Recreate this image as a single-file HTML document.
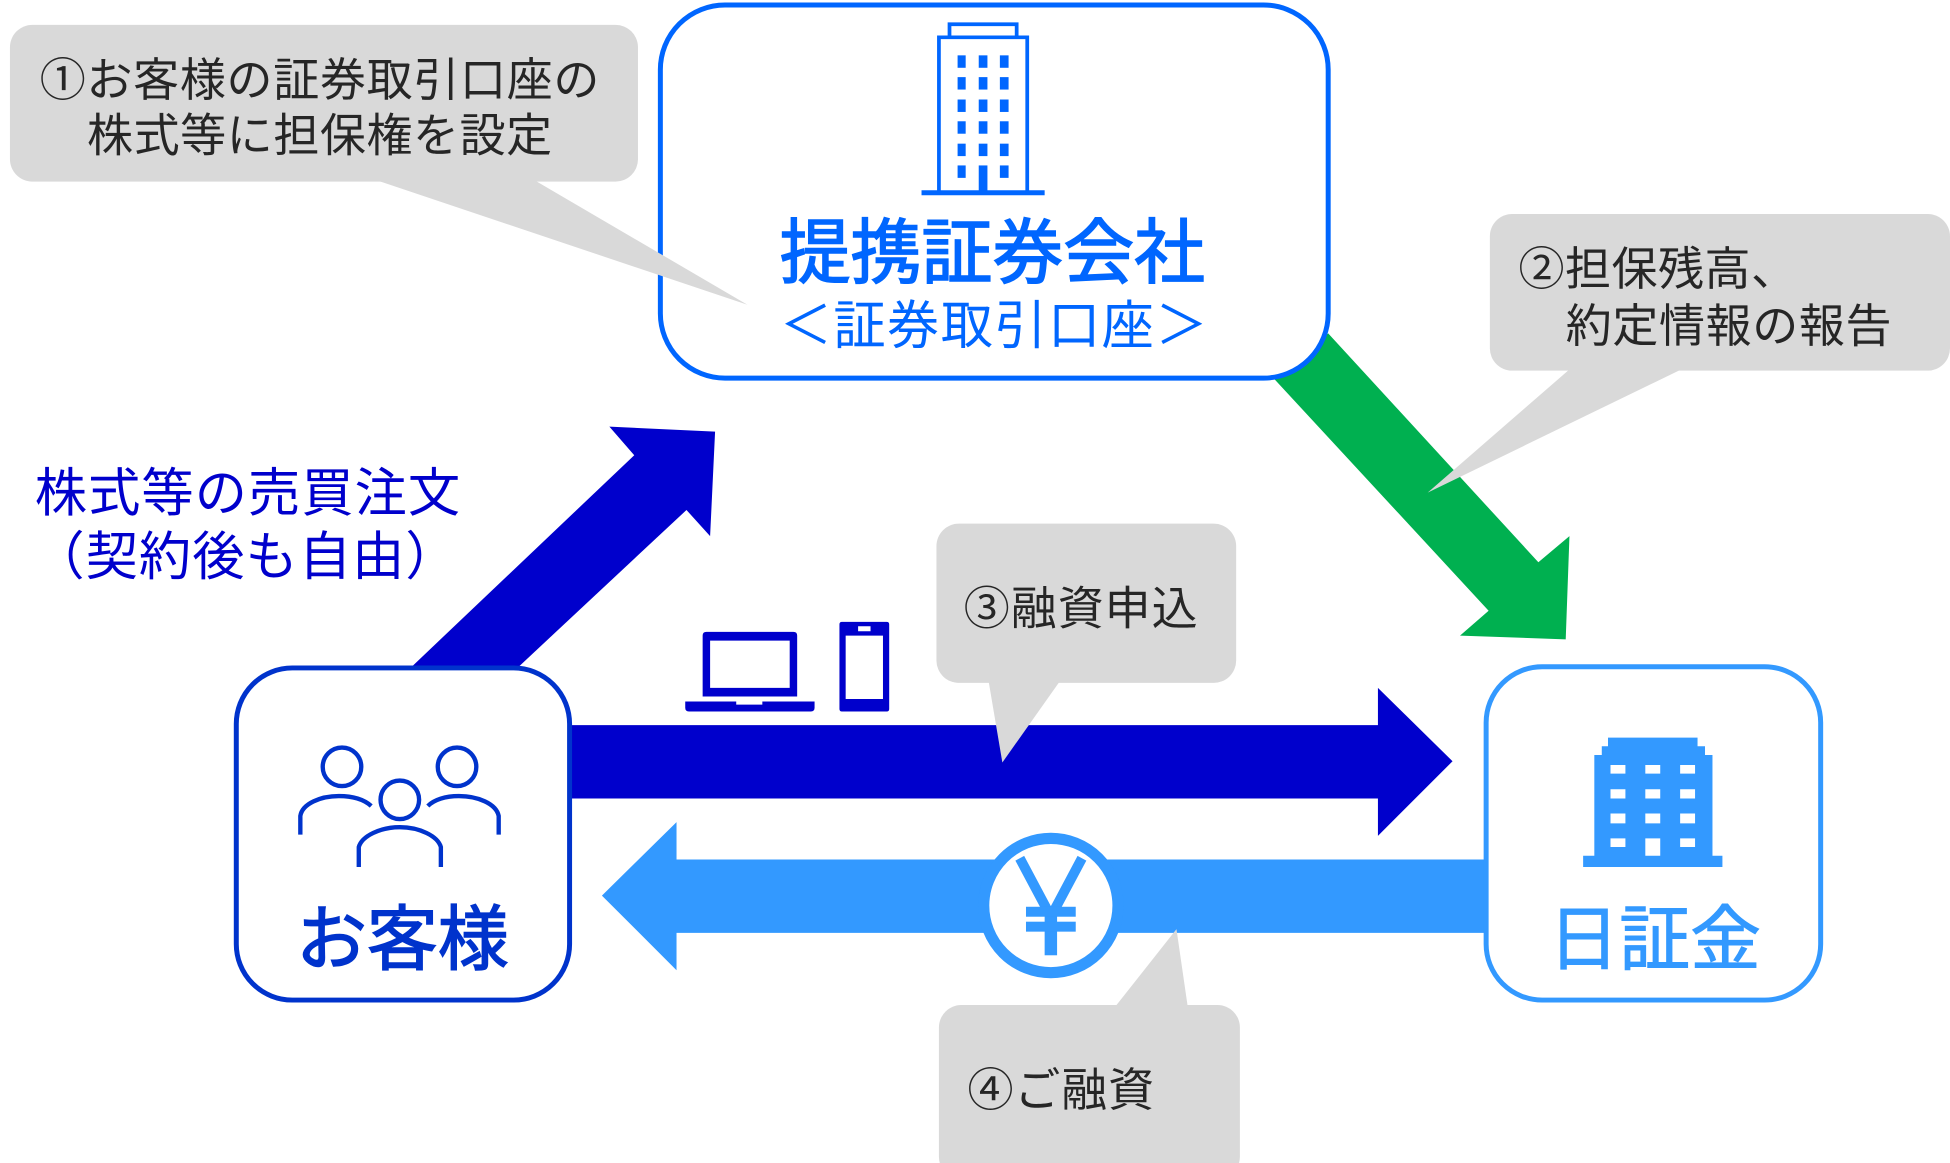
<!DOCTYPE html>
<html lang="ja">
<head>
<meta charset="utf-8">
<title>融資の仕組み</title>
<style>
html,body{margin:0;padding:0;background:#fff;width:1950px;height:1163px;overflow:hidden}
svg{display:block}
text{font-family:"Liberation Sans","Noto Sans CJK JP",sans-serif}
</style>
</head>
<body>
<svg xmlns="http://www.w3.org/2000/svg" width="1950" height="1163" viewBox="0 0 1568 935" preserveAspectRatio="none">
<rect width="1568" height="935" fill="#fff"/>

<!-- arrows -->
<polygon points="1068,268 1237,452 1262,431 1259,514 1174,511 1197,491 1024,304 1040,290" fill="#00b050"/>
<polygon points="330,537 510,366 490,343 575,347 571,431 552,410 416,537" fill="#0000cc"/>
<polygon points="450,583 1108,583 1108,553 1168,612 1108,672 1108,642 450,642" fill="#0000cc"/>
<polygon points="1200,691 544,691 544,661 484,720 544,780 544,750 1200,750" fill="#3399ff"/>

<!-- securities company box -->
<rect x="531" y="4" width="537" height="300" rx="52" ry="52" fill="#fff" stroke="#0066ff" stroke-width="4"/>
<!-- tall building -->
<g fill="none" stroke="#0066ff" stroke-width="3">
<path d="M763.500 29V19.500H817.500V29"/>
<path d="M755 155V30H826V155"/>
<path d="M741 155H840" stroke-width="4"/>
</g>
<g fill="#0066ff">
<rect x="770" y="44.500" width="6.500" height="10"/><rect x="787" y="44.500" width="7" height="10"/><rect x="804" y="44.500" width="7" height="10"/>
<rect x="770" y="62" width="6.500" height="10"/><rect x="787" y="62" width="7" height="10"/><rect x="804" y="62" width="7" height="10"/>
<rect x="770" y="80" width="6.500" height="10"/><rect x="787" y="80" width="7" height="10"/><rect x="804" y="80" width="7" height="10"/>
<rect x="770" y="97.500" width="6.500" height="10"/><rect x="787" y="97.500" width="7" height="10"/><rect x="804" y="97.500" width="7" height="10"/>
<rect x="770" y="115.500" width="6.500" height="10"/><rect x="787" y="115.500" width="7" height="10"/><rect x="804" y="115.500" width="7" height="10"/>
<rect x="770" y="133" width="6.500" height="10"/><rect x="787" y="133" width="7" height="22"/><rect x="804" y="133" width="7" height="10"/>
</g>
<text x="798" y="223" font-size="57" fill="#0066ff" stroke="#0066ff" stroke-width="1.200" text-anchor="middle">提携証券会社</text>
<text x="627" y="276" font-size="42" fill="#0066ff" textLength="344" lengthAdjust="spacing">＜証券取引口座＞</text>

<!-- customer box -->
<rect x="190" y="537" width="268" height="267" rx="45" ry="45" fill="#fff" stroke="#0033cc" stroke-width="4"/>
<g fill="none" stroke="#0033cc" stroke-width="3.500" stroke-linecap="butt">
<circle cx="275" cy="616.500" r="15.500"/>
<circle cx="367.500" cy="616.500" r="15.500"/>
<circle cx="321.500" cy="643" r="15.500"/>
<path d="M241.500 671V656C243 646 258 640 272.500 640C284 640 293 643 298.500 648"/>
<path d="M401 671V656C399 646 384 640 369 640C358 640 349 643 344 648"/>
<path d="M288.500 697V681C291 672 306 665 321.500 665C337 665 352 672 354.500 681V697"/>
</g>
<text x="323.500" y="775" font-size="57" fill="#0033cc" stroke="#0033cc" stroke-width="1.200" text-anchor="middle">お客様</text>

<!-- nisshokin box -->
<rect x="1195" y="536" width="269" height="268" rx="45" ry="45" fill="#fff" stroke="#3399ff" stroke-width="4"/>
<path fill="#3399ff" fill-rule="evenodd" d="M1293 593H1365V600H1371V607H1377V688H1385V697H1273V688H1282V607H1288V600H1293Z
M1295 615V622H1307V615Z M1323 615V622H1335V615Z M1351 615V622H1363V615Z
M1295 634.500V642H1307V634.500Z M1323 634.500V642H1335V634.500Z M1351 634.500V642H1363V634.500Z
M1295 654V662H1307V654Z M1323 654V662H1335V654Z M1351 654V662H1363V654Z
M1295 674V681H1307V674Z M1323 674V688H1335V674Z M1351 674V681H1363V674Z"/>
<text x="1330.500" y="775" font-size="57" fill="#3399ff" stroke="#3399ff" stroke-width="0.800" text-anchor="middle">日証金</text>

<!-- devices -->
<path fill="#0000cc" fill-rule="evenodd" d="M568 508H638Q641 508 641 511V560H565V511Q565 508 568 508ZM571 515V553H635V515Z"/>
<path fill="#0000cc" d="M551 564H592V566.500H613V564H655V569Q655 572 652 572H554Q551 572 551 569Z"/>
<path fill="#0000cc" fill-rule="evenodd" d="M677 500H713Q715 500 715 502V570Q715 572 713 572H677Q675 572 675 570V502Q675 500 677 500ZM680 511V562H710V511ZM690 503.500V507.500H700V503.500Z"/>

<!-- yen coin -->
<circle cx="845" cy="728" r="54" fill="#fff" stroke="#3399ff" stroke-width="9"/>
<path d="M820 690L845 737L870 690" fill="none" stroke="#3399ff" stroke-width="8"/>
<rect x="840" y="730" width="10" height="38" fill="#3399ff"/>
<rect x="825" y="729" width="40" height="8" fill="#3399ff"/>
<rect x="825" y="741" width="40" height="8" fill="#3399ff"/>

<!-- callouts -->
<g fill="#d9d9d9">
<rect x="8" y="20" width="505" height="126" rx="18" ry="18"/>
<polygon points="303,145 430,145 601,245"/>
<rect x="1198" y="172" width="370" height="126" rx="18" ry="18"/>
<polygon points="1262,297 1352,297 1148,396"/>
<rect x="753" y="421" width="241" height="128" rx="18" ry="18"/>
<polygon points="795,548 852,548 806,613"/>
<rect x="755" y="808" width="242" height="140" rx="18" ry="18"/>
<polygon points="897,809 955,809 946,747"/>
</g>

<!-- callout text -->
<g font-size="37" fill="#262626" font-weight="400">
<text x="32" y="77" textLength="450" lengthAdjust="spacing">①お客様の証券取引口座の</text>
<text x="70" y="122" textLength="374" lengthAdjust="spacing">株式等に担保権を設定</text>
<text x="1221" y="229" textLength="224" lengthAdjust="spacing">②担保残高、</text>
<text x="1259" y="275" textLength="262" lengthAdjust="spacing">約定情報の報告</text>
<text x="775" y="502" textLength="188" lengthAdjust="spacing">③融資申込</text>
<text x="778" y="889" textLength="150" lengthAdjust="spacing">④ご融資</text>
</g>

<!-- left label -->
<g font-size="42" fill="#0000cc">
<text x="28" y="411" textLength="342" lengthAdjust="spacing">株式等の売買注文</text>
<text x="26" y="462" textLength="342" lengthAdjust="spacing">（契約後も自由）</text>
</g>
</svg>
</body>
</html>
